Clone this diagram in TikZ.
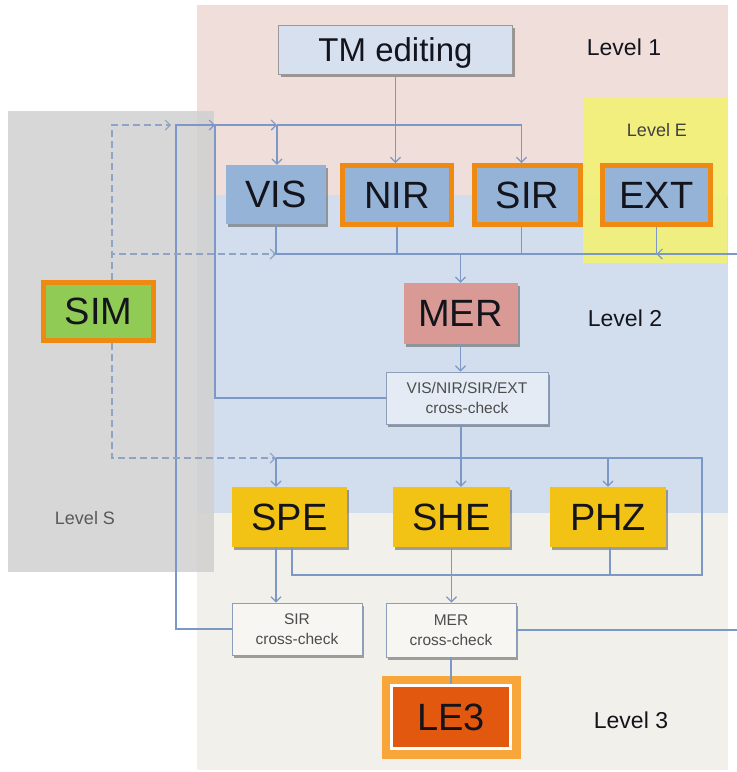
\documentclass[tikz,border=0pt]{standalone}
\usepackage{fontspec}
\setmainfont{Liberation Sans}
\usepackage{tikz}
\usetikzlibrary{arrows.meta,positioning,shadows}
\usepackage{xcolor}
\definecolor{lvlpink}{HTML}{F0DEDA}
\definecolor{lvlblue}{HTML}{D2DEED}
\definecolor{lvlbeige}{HTML}{F2F0EA}
\definecolor{lvlgray}{HTML}{D0D0D0}
\definecolor{lvlyellow}{HTML}{F4F36E}
\definecolor{boxblue}{HTML}{95B3D7}
\definecolor{ringorange}{HTML}{EE8A12}
\definecolor{simgreen}{HTML}{8FCB55}
\definecolor{merred}{HTML}{D99A95}
\definecolor{speyellow}{HTML}{F2C314}
\definecolor{le3red}{HTML}{E2580F}
\definecolor{le3ring}{HTML}{F8A53A}
\definecolor{tmfill}{HTML}{D7E0EE}
\definecolor{linkblue}{HTML}{7C98C6}
\definecolor{dashblue}{HTML}{8FA3C4}
\definecolor{chkedge}{HTML}{8C9EB8}
\definecolor{inkdark}{HTML}{14141C}

\tikzset{
  boxshade/.style={drop shadow={shadow xshift=2pt, shadow yshift=-2.5pt, opacity=.5, fill=black!70}},
  blk/.style={inner sep=0pt, text depth=0pt, text=inkdark, boxshade,
    font=\fontsize{38}{40}\selectfont},
  ringed/.style={blk, draw=ringorange, line width=5pt},
  chk/.style={inner sep=0pt, align=center, draw=chkedge, line width=.9pt, text=black!70,
    boxshade, font=\fontsize{15.5}{20}\selectfont},
  lvltext/.style={text=inkdark, font=\fontsize{23}{25}\selectfont},
}

\begin{document}
\begin{tikzpicture}[x=1pt, y=-1pt,
    link/.style={draw=linkblue, line width=1.2pt},
    flow/.style={link, -{Straight Barb[length=5pt,width=10pt]}},
    simflow/.style={draw=dashblue, line width=1.2pt, dash pattern=on 7pt off 4pt,
      -{Straight Barb[length=5pt,width=10pt]}}]
  \useasboundingbox (0,0) rectangle (737,772);
  % level areas
  \fill[lvlpink] (197,5) rectangle (728,195);
  \fill[lvlblue] (197,195) rectangle (728,513);
  \fill[lvlbeige] (197,513) rectangle (728,770);
  \fill[lvlgray, opacity=.85] (8,111) rectangle (214,572);
  \fill[lvlyellow, opacity=.85] (583,97) rectangle (727,263);
  \node[lvltext] (lvl1) at (624,47) {Level 1};
  \node[lvltext, font=\fontsize{18}{20}\selectfont, text=black!75] (lvlE) at (657,130) {Level E};
  \node[lvltext] (lvl2) at (625,318) {Level 2};
  \node[lvltext, font=\fontsize{18}{20}\selectfont, text=black!65] (lvlS) at (85,518) {Level S};
  \node[lvltext] (lvl3) at (631,720) {Level 3};

  % level 1 boxes
  \node[blk, fill=tmfill, draw=black!40, line width=.8pt, minimum width=234pt, minimum height=49pt,
    font=\fontsize{33}{36}\selectfont] (tm) at (395.5,50) {TM editing};
  \node[blk, fill=boxblue, minimum width=100pt, minimum height=59pt] (vis) at (276,194.5) {VIS};
  \node[ringed, fill=boxblue, minimum width=109pt, minimum height=59pt] (nir) at (397,195) {NIR};
  \node[ringed, fill=boxblue, minimum width=106pt, minimum height=59pt] (sir) at (527.5,195) {SIR};
  \node[ringed, fill=boxblue, minimum width=108pt, minimum height=59pt] (ext) at (656.5,195) {EXT};
  \node[ringed, fill=simgreen, minimum width=110pt, minimum height=58pt] (sim) at (98.5,311.5) {SIM};

  % level 2 boxes
  \node[blk, fill=merred, minimum width=114pt, minimum height=61pt] (mer) at (460.5,313.5) {MER};
  \node[chk, fill=lvlblue!60!white, minimum width=162pt, minimum height=52pt] (xchk) at (467,398)
    {VIS/NIR/SIR/EXT\\cross-check};
  \node[blk, fill=speyellow, minimum width=115pt, minimum height=60pt] (spe) at (289.5,517) {SPE};
  \node[blk, fill=speyellow, minimum width=117pt, minimum height=60pt] (she) at (451.5,517) {SHE};
  \node[blk, fill=speyellow, minimum width=116pt, minimum height=60pt] (phz) at (608,517) {PHZ};

  % level 3 boxes
  \node[chk, fill=lvlbeige!60!white, minimum width=130pt, minimum height=52pt] (sirchk) at (297,629)
    {SIR\\cross-check};
  \node[chk, fill=lvlbeige!60!white, minimum width=130pt, minimum height=54pt] (merchk) at (451,630)
    {MER\\cross-check};
  \node[blk, fill=le3red, draw=white, line width=3pt, preaction={draw=le3ring, line width=20pt},
    minimum width=119pt, minimum height=63pt] (le3) at (451,717) {LE3};

  % links
  \coordinate (fbA) at (176,125);
  \coordinate (fbB) at (215,125);
  \coordinate (fbC) at (277,125);
  \coordinate (busM) at (462,254);
  \coordinate (extin) at (737,254);
  \coordinate (busL) at (461,458);
  \coordinate (loopA) at (702,458);
  \coordinate (loopB) at (702,575);
  \draw[flow] (tm.south) -- (tm.south |- nir.north);
  \draw[flow] (sirchk.west) -| (fbA) -- (fbB);
  \draw[flow] (xchk.west) -| (fbB) -- (fbC);
  \draw[flow] (fbC) -- (fbC |- vis.north);
  \draw[flow] (fbC) -| ([xshift=-6pt]sir.north);
  % simulations feed (dashed)
  \draw[simflow] ([xshift=13.5pt]sim.north) |- ([xshift=-5pt]fbA);
  \draw[simflow] ([xshift=13.5pt]sim.north) |- (vis.south |- busM);
  \draw[simflow] ([xshift=13.5pt]sim.south) |- ([xshift=-13.5pt]spe.north |- busL);
  % into MER
  \draw[link] (vis.south) |- (ext.south |- busM) -- (ext.south);
  \draw[link] (nir.south) -- (nir.south |- busM);
  \draw[link] ([xshift=-6pt]sir.south) -- ([xshift=-6pt]sir.south |- busM);
  \draw[flow] (extin) -- (ext.south |- busM);
  \draw[flow] (mer.north |- busM) -- (mer.north);
  \draw[flow] (mer.south) -- (mer.south |- xchk.north);
  \draw[flow] (xchk.south -| busL) -- (busL |- she.north);
  % loop round SPE / PHZ
  \draw[link] ([xshift=-13.5pt]spe.north |- busL) -- (loopA) -- (loopB) -| ([xshift=2.5pt]spe.south);
  \draw[flow] ([xshift=-13.5pt]spe.north |- busL) -- ([xshift=-13.5pt]spe.north);
  \draw[flow] (phz.north |- busL) -- (phz.north);
  \draw[link] ([xshift=2pt]phz.south) -- ([xshift=2pt]phz.south |- loopB);
  % level 3
  \draw[flow] ([xshift=-13.5pt]spe.south) -- ([xshift=-13.5pt]spe.south |- sirchk.north);
  \draw[flow] (she.south) -- (she.south |- merchk.north);
  \draw[link] (merchk.south) -- (merchk.south |- le3.north);
  \draw[link] (merchk.east) -- (merchk.east -| extin);
\end{tikzpicture}
\end{document}
